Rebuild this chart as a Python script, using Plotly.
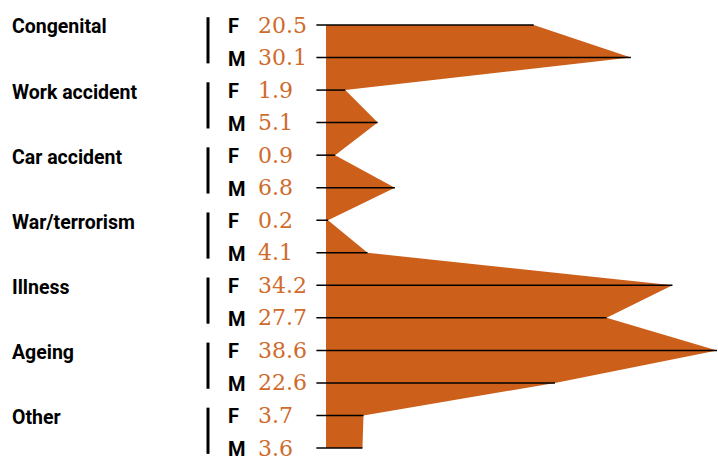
import plotly.graph_objects as go

categories = ["Congenital", "Work accident", "Car accident", "War/terrorism", "Illness", "Ageing", "Other"]
sexes = ["F", "M"]
female = [20.5, 1.9, 0.9, 0.2, 34.2, 38.6, 3.7]
male = [30.1, 5.1, 6.8, 4.1, 27.7, 22.6, 3.6]

W, H = 718, 459
ORANGE = "#CC5F1A"
TEXT_ORANGE = "#CF6B2C"

# interleave rows
vals, rows, sex_lab = [], [], []
for i, c in enumerate(categories):
    for j, s in enumerate(sexes):
        vals.append(female[i] if s == "F" else male[i])
        rows.append(2 * i + j)
        sex_lab.append(s)

fig = go.Figure()
fig.add_trace(go.Scatter(x=vals, y=rows, mode="lines", fill="tozerox",
                         fillcolor=ORANGE, line=dict(width=0, color=ORANGE),
                         hoverinfo="skip"))

lx, ly = [], []
for v, r in zip(vals, rows):
    lx += [-0.95, v, None]
    ly += [r, r, None]
fig.add_trace(go.Scatter(x=lx, y=ly, mode="lines",
                         line=dict(color="black", width=1.5), hoverinfo="skip"))

ann = []
shapes = []
for v, r, s in zip(vals, rows, sex_lab):
    ann.append(dict(x=226 / W, xref="paper", y=r + 0.03, yref="y", text="<b>%s</b>" % s,
                    showarrow=False, xanchor="left", yanchor="middle",
                    font=dict(family="Roboto", size=20, color="black")))
    ann.append(dict(x=256 / W, xref="paper", y=r, yref="y", text="%.1f" % v,
                    showarrow=False, xanchor="left", yanchor="middle",
                    font=dict(family="DejaVu Serif", size=22, color=TEXT_ORANGE)))
for i, c in enumerate(categories):
    ann.append(dict(x=10 / W, xref="paper", y=2 * i + 0.06, yref="y", text="<b>%s</b>" % c,
                    showarrow=False, xanchor="left", yanchor="middle",
                    font=dict(family="Roboto", size=19.5, color="black")))
    shapes.append(dict(type="line", xref="paper", yref="y",
                       x0=208 / W, x1=208 / W, y0=2 * i - 0.24, y1=2 * i + 1.18,
                       line=dict(color="black", width=3)))

k = 10.13
x0 = -326 / k
x1 = x0 + W / k
step = 32.54
y_top = -25 / step
y_bot = (H - 25) / step

fig.update_layout(
    width=W, height=H, margin=dict(l=0, r=0, t=0, b=0),
    paper_bgcolor="white", plot_bgcolor="white", showlegend=False,
    xaxis=dict(range=[x0, x1], visible=False, fixedrange=True),
    yaxis=dict(range=[y_bot, y_top], visible=False, fixedrange=True),
    annotations=ann, shapes=shapes,
)
fig.write_html("out.html", config={"displayModeBar": False},
               post_script="document.body.style.margin='0';document.body.style.overflow='hidden';")
